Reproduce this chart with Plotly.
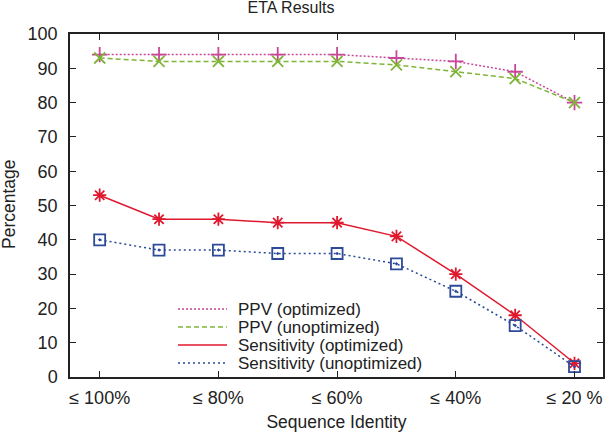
import plotly.graph_objects as go

# sequence identity thresholds (x categories)
identity = ["≤ 100%", "≤ 90%", "≤ 80%", "≤ 70%", "≤ 60%", "≤ 50%", "≤ 40%", "≤ 30%", "≤ 20 %"]
tick_labels = ["≤ 100%", "≤ 80%", "≤ 60%", "≤ 40%", "≤ 20 %"]

ppv_opt = [94, 94, 94, 94, 94, 93, 92, 89, 80]
ppv_unopt = [93, 92, 92, 92, 92, 91, 89, 87, 80]
sens_opt = [53, 46, 46, 45, 45, 41, 30, 18, 4]
sens_unopt = [40, 37, 37, 36, 36, 33, 25, 15, 3]

x = list(range(len(identity)))

series = [
    ("PPV (optimized)", ppv_opt, "#c8479a", "2px,2px", "cross-thin"),
    ("PPV (unoptimized)", ppv_unopt, "#7fb536", "5px,3px", "x-thin"),
    ("Sensitivity (optimized)", sens_opt, "#e0182e", "solid", "asterisk-open"),
    ("Sensitivity (unoptimized)", sens_unopt, "#2c4a98", "2px,3px", "square-open-dot"),
]

W, H = 605, 432
L, R, T, B = 70, 2, 34, 55
pw, ph = W - L - R, H - T - B

fig = go.Figure()
for i, (name, y, col, dash, sym) in enumerate(series):
    fig.add_trace(go.Scatter(x=x, y=y, name=name, mode="lines+markers", showlegend=False,
                             line=dict(color=col, dash=dash, width=1.5),
                             marker=dict(symbol=sym, size=11, color=col,
                                         line=dict(color=col, width=1.8))))
    # gnuplot-style key: line sample + label
    row = 309 + 18 * i
    yk = (H - B - row) / ph
    fig.add_shape(type="line", xref="paper", yref="paper",
                  x0=(178 - L) / pw, x1=(227 - L) / pw, y0=yk, y1=yk,
                  line=dict(color=col, dash=dash, width=1.5))
    fig.add_annotation(text=name, xref="paper", yref="paper", x=(236 - L) / pw, y=yk,
                       xanchor="left", yanchor="middle", showarrow=False,
                       font=dict(size=17))

# y axis title
fig.add_annotation(text="Percentage", xref="paper", yref="paper", x=(9 - L) / pw,
                   y=(H - B - 204) / ph, textangle=-90, showarrow=False,
                   xanchor="center", yanchor="middle", font=dict(size=17.5))

fig.update_layout(
    width=W, height=H,
    margin=dict(l=L, r=R, t=T, b=B, autoexpand=False),
    paper_bgcolor="white", plot_bgcolor="white",
    font=dict(family="Liberation Sans, Arial, sans-serif", size=17, color="#222"),
    title=dict(text="ETA Results", x=291 / W, xanchor="center",
               yref="container", y=1 - 2 / H, yanchor="top",
               font=dict(size=16)),
    showlegend=False,
)
fig.update_xaxes(
    range=[-0.5, 8.48], tickmode="array", tickvals=[0, 2, 4, 6, 8], ticktext=tick_labels,
    ticks="inside", ticklen=6, tickcolor="#222", mirror="ticks", showline=True,
    linecolor="#222", linewidth=1.5, showgrid=False, zeroline=False, automargin=False,
    ticklabelstandoff=4,
    title=dict(text="Sequence Identity", standoff=8, font=dict(size=17.5)), tickfont=dict(size=18),
)
fig.update_yaxes(
    range=[0, 100], dtick=10, ticks="inside", ticklen=6, tickcolor="#222",
    mirror="ticks", showline=True, linecolor="#222", linewidth=1.5, showgrid=False,
    zeroline=False, automargin=False, ticklabelstandoff=7, tickfont=dict(size=18),
)

fig.write_html("out.html", config={"displayModeBar": False},
               post_script="document.body.style.margin='0';")
